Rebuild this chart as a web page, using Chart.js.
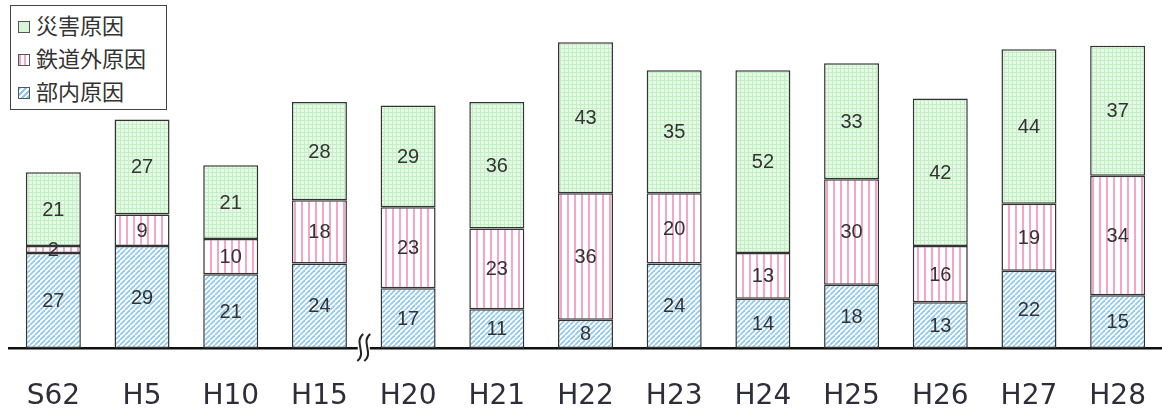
<!DOCTYPE html>
<html lang="ja">
<head>
<meta charset="utf-8">
<title>輸送障害 原因別件数</title>
<script src="https://cdn.jsdelivr.net/npm/chart.js@4.4.1/dist/chart.umd.min.js"></script>
<style>
  html, body { margin: 0; padding: 0; background: #fff; }
  #wrap { position: relative; width: 1162px; height: 410px; }
  #legend {
    position: absolute; left: 10px; top: 5px; width: 157px; height: 105px;
    border: 1.5px solid #444; background: #fff; box-sizing: border-box;
    font-family: "Noto Sans CJK JP", sans-serif; font-size: 22px; color: #333;
    padding: 2px 0 0 7px;
  }
  #legend div { height: 33px; line-height: 32px; white-space: nowrap; }
  #legend i {
    display: inline-block; width: 10px; height: 10px; border: 1px solid #555;
    margin-right: 6px; vertical-align: 1px;
  }
  .sw-green { background: #d9f6d9; }
  .sw-pink { background: repeating-linear-gradient(90deg, #f5a8c8 0 2px, #fff 2px 5px); }
  .sw-blue { background: repeating-linear-gradient(135deg, #8cc6ee 0 2px, #fff 2px 4px); }
</style>
</head>
<body>
<div id="wrap">
  <canvas id="causeChart"></canvas>
  <div id="legend">
    <div><i class="sw-green"></i>災害原因</div>
    <div><i class="sw-pink"></i>鉄道外原因</div>
    <div><i class="sw-blue"></i>部内原因</div>
  </div>
</div>
<script>
// years (S62 → H28)
const years = ['S62', 'H5', 'H10', 'H15', 'H20', 'H21', 'H22', 'H23', 'H24', 'H25', 'H26', 'H27', 'H28'];
// counts per cause, stacked bottom to top
const internalCause = [27, 29, 21, 24, 17, 11, 8, 24, 14, 18, 13, 22, 15];
const externalCause = [2, 9, 10, 18, 23, 23, 36, 20, 13, 30, 16, 19, 34];
const disasterCause = [21, 27, 21, 28, 29, 36, 43, 35, 52, 33, 42, 44, 37];

function makePattern(w, h, paint) {
    const c = document.createElement('canvas');
    c.width = w; c.height = h;
    const g = c.getContext('2d');
    paint(g, w, h);
    return g.createPattern(c, 'repeat');
}

// diagonal hatch, light blue
const bluePattern = makePattern(5, 5, (g, w, h) => {
    g.fillStyle = '#ffffff';
    g.fillRect(0, 0, w, h);
    g.strokeStyle = '#92c9ee';
    g.lineWidth = 1.8;
    for (const off of [-w, 0, w]) {
        g.beginPath();
        g.moveTo(off, h);
        g.lineTo(off + w, 0);
        g.stroke();
    }
});

// vertical pink stripes
const pinkPattern = makePattern(7, 2, (g, w, h) => {
    g.fillStyle = '#ffffff';
    g.fillRect(0, 0, w, h);
    g.fillStyle = '#f5a6c6';
    g.fillRect(0, 0, 2, h);
});

// pale green grid
const greenPattern = makePattern(4, 4, (g, w, h) => {
    g.fillStyle = '#e6f9e6';
    g.fillRect(0, 0, w, h);
    g.fillStyle = '#c4eec4';
    g.fillRect(0, 0, w, 1);
    g.fillRect(0, 0, 1, h);
});

// numbers in the middle of every segment
const segmentLabels = {
    id: 'segmentLabels',
    afterDatasetsDraw(chart) {
        const ctx = chart.ctx;
        ctx.save();
        ctx.font = '20px "Liberation Sans", Arial, sans-serif';
        ctx.fillStyle = '#333';
        ctx.textAlign = 'center';
        ctx.textBaseline = 'middle';
        chart.data.datasets.forEach((ds, i) => {
            chart.getDatasetMeta(i).data.forEach((bar, j) => {
                const p = bar.getProps(['x', 'y', 'base'], true);
                ctx.fillText(String(ds.data[j]), p.x, (p.y + p.base) / 2 + 1);
            });
        });
        ctx.restore();
    }
};

// wavy break mark on the baseline between H15 and H20
const axisBreak = {
    id: 'axisBreak',
    afterDraw(chart) {
        const xs = chart.scales.x;
        const x = (xs.getPixelForValue(3) + xs.getPixelForValue(4)) / 2;
        const y = chart.chartArea.bottom;
        const ctx = chart.ctx;
        ctx.save();
        ctx.fillStyle = '#fff';
        ctx.fillRect(x - 6, y - 3, 12, 6);
        ctx.strokeStyle = '#222';
        ctx.lineWidth = 2;
        for (const dx of [-3.5, 3.5]) {
            ctx.beginPath();
            ctx.moveTo(x + dx + 3, y - 14);
            ctx.bezierCurveTo(x + dx - 7, y - 6, x + dx + 7, y + 5, x + dx - 3, y + 13);
            ctx.stroke();
        }
        ctx.restore();
    }
};

function segment(label, data, fill) {
    return {
        label: label,
        data: data,
        backgroundColor: fill,
        borderColor: '#333',
        borderWidth: 1.5,
        borderSkipped: false,
        barPercentage: 0.62,
        categoryPercentage: 1.0
    };
}

new Chart(document.getElementById('causeChart'), {
    type: 'bar',
    data: {
        labels: years,
        datasets: [
            segment('部内原因', internalCause, bluePattern),
            segment('鉄道外原因', externalCause, pinkPattern),
            segment('災害原因', disasterCause, greenPattern)
        ]
    },
    options: {
        responsive: true,
        maintainAspectRatio: false,
        animation: false,
        layout: { padding: { left: 9, right: 0, top: 14, bottom: 0 } },
        plugins: {
            legend: { display: false },
            tooltip: { enabled: false }
        },
        scales: {
            x: {
                stacked: true,
                grid: { display: false },
                border: { display: true, color: '#111', width: 2.5 },
                ticks: {
                    // keep padding 0 so the outer bars are not squeezed; push labels down via lineHeight
                    padding: 0,
                    color: '#2e2e3a',
                    font: { family: '"DejaVu Sans", sans-serif', size: 28, lineHeight: 2.9 }
                },
                afterFit(scale) { scale.height = 62; }
            },
            y: {
                stacked: true,
                display: false,
                min: 0,
                max: 95
            }
        }
    },
    plugins: [segmentLabels, axisBreak]
});
</script>
</body>
</html>
